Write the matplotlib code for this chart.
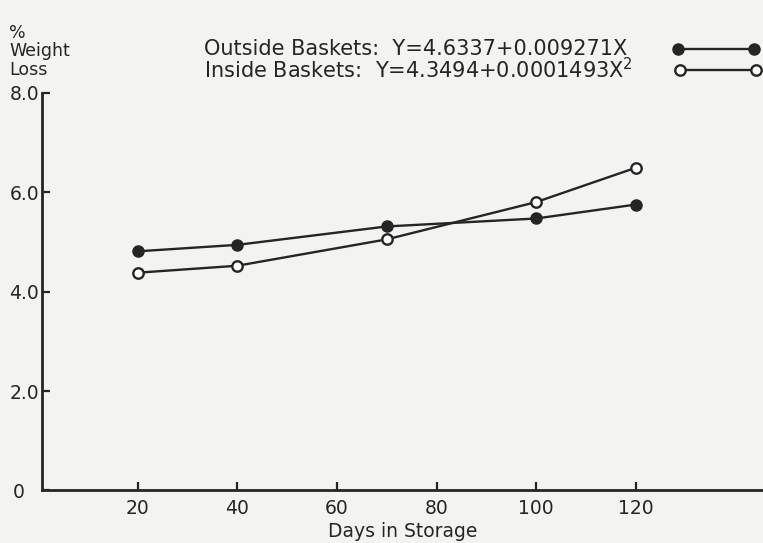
import numpy as np
import matplotlib
matplotlib.use('Agg')
import matplotlib.pyplot as plt
from matplotlib.lines import Line2D

plt.rcParams['font.family'] = ['DejaVu Sans']
plt.rcParams['mathtext.default'] = 'regular'

# weight loss (%) vs days in storage
days = [20, 40, 70, 100, 120]
outside = [4.81, 4.94, 5.31, 5.47, 5.75]
inside = [4.38, 4.52, 5.05, 5.80, 6.49]

xticks = [20, 40, 60, 80, 100, 120]
yticks = [0, 2, 4, 6, 8]
ytick_labels = ['0', '2.0', '4.0', '6.0', '8.0']

outside_label = 'Outside Baskets:  Y=4.6337+0.009271X'
inside_label = 'Inside Baskets:  Y=4.3494+0.0001493X$^2$'

ink = '#252525'
paper = '#f3f3f1'

fig = plt.figure(figsize=(7.63, 5.43), dpi=100, facecolor=paper)
ax = fig.add_axes([0.0547, 0.0967, 0.9453, 0.7326])
ax.set_facecolor(paper)

ax.plot(days, outside, color=ink, lw=1.7, marker='o', ms=8,
        mfc=ink, mec=ink, clip_on=False, zorder=3)
ax.plot(days, inside, color=ink, lw=1.7, marker='o', ms=7.5,
        mfc='white', mec=ink, mew=1.7, clip_on=False, zorder=3)

ax.set_xlim(0.72, 145.56)
ax.set_ylim(0, 8)
for s in ['top', 'right']:
    ax.spines[s].set_visible(False)
for s in ['left', 'bottom']:
    ax.spines[s].set_linewidth(2.0)
    ax.spines[s].set_color(ink)

ax.set_xticks(xticks)
ax.set_xticklabels([str(v) for v in xticks])
ax.set_yticks(yticks)
ax.set_yticklabels(ytick_labels)
ax.tick_params(axis='both', direction='in', length=6, width=1.6,
               color=ink, labelcolor=ink, labelsize=13.5)
ax.tick_params(axis='x', pad=6)
ax.tick_params(axis='y', pad=2)
ax.yaxis.get_major_ticks()[0].set_pad(12)

ax.set_xlabel('Days in Storage', fontsize=13.5, color=ink, labelpad=3)

# y axis title stacked above the axis
for txt, ypx in [('%', 33), ('Weight', 51), ('Loss', 70)]:
    fig.text(9 / 763, 1 - ypx / 543, txt, fontsize=12.5, color=ink,
             ha='left', va='center')

# legend drawn by hand
fig.text(204 / 763, 1 - 49 / 543, outside_label, fontsize=15, color=ink,
         ha='left', va='center')
fig.text(204 / 763, 1 - 70 / 543, inside_label, fontsize=15, color=ink,
         ha='left', va='center')
fig.add_artist(Line2D([678 / 763, 754 / 763], [1 - 49 / 543, 1 - 49 / 543],
                      color=ink, lw=1.7, marker='o', ms=8, mfc=ink, mec=ink))
fig.add_artist(Line2D([680 / 763, 756 / 763], [1 - 70 / 543, 1 - 70 / 543],
                      color=ink, lw=1.7, marker='o', ms=7.5, mfc='white',
                      mec=ink, mew=1.7))

fig.savefig('out.png', dpi=100, facecolor=paper)
